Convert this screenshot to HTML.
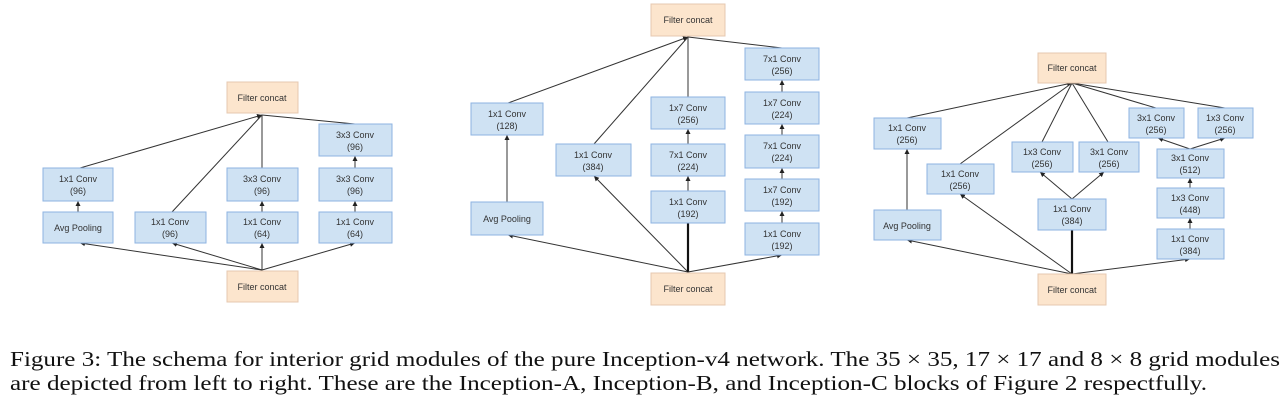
<!DOCTYPE html>
<html><head><meta charset="utf-8"><style>
html,body{margin:0;padding:0;background:#fff;width:1286px;height:404px;overflow:hidden}
svg text{font-family:"Liberation Sans",sans-serif}
</style></head><body>
<svg width="1286" height="404" xmlns="http://www.w3.org/2000/svg">
<defs><marker id="a" markerWidth="6" markerHeight="6" refX="5" refY="3" orient="auto" markerUnits="userSpaceOnUse"><path d="M0,0.5 L5,3 L0,5.5z" fill="#222"/></marker></defs>
<style>.b{fill:#cfe2f3;stroke:#8db3e2;stroke-width:1}.c{fill:#fce5cd;stroke:#e6c8b0;stroke-width:1}.l{stroke:#333;stroke-width:1;fill:none}.t{font-size:9px;fill:#333;text-anchor:middle}</style>

<!-- Diagram A -->
<g>
<line class="l" x1="80" y1="168" x2="262" y2="115" marker-end="url(#a)"/>
<line class="l" x1="172" y1="212" x2="262" y2="115"/>
<line class="l" x1="262" y1="168" x2="262" y2="115"/>
<line class="l" x1="355" y1="124" x2="262" y2="115"/>
<line class="l" x1="262" y1="270" x2="80" y2="243" marker-end="url(#a)"/>
<line class="l" x1="262" y1="270" x2="172" y2="243" marker-end="url(#a)"/>
<line class="l" x1="262" y1="270" x2="262" y2="243" marker-end="url(#a)"/>
<line class="l" x1="262" y1="270" x2="355" y2="243" marker-end="url(#a)"/>
<line class="l" x1="78" y1="212" x2="78" y2="201" marker-end="url(#a)"/>
<line class="l" x1="262" y1="212" x2="262" y2="201" marker-end="url(#a)"/>
<line class="l" x1="355" y1="212" x2="355" y2="201" marker-end="url(#a)"/>
<line class="l" x1="355" y1="168" x2="355" y2="156" marker-end="url(#a)"/>
<rect class="c" x="227" y="82" width="71" height="31"/><text class="t" x="262" y="101">Filter concat</text>
<rect class="b" x="43" y="168" width="70" height="33"/><text class="t" x="78" y="182">1x1 Conv</text><text class="t" x="78" y="194">(96)</text>
<rect class="b" x="43" y="212" width="70" height="31"/><text class="t" x="78" y="231">Avg Pooling</text>
<rect class="b" x="135" y="212" width="71" height="31"/><text class="t" x="170" y="225">1x1 Conv</text><text class="t" x="170" y="237">(96)</text>
<rect class="b" x="227" y="168" width="71" height="33"/><text class="t" x="262" y="182">3x3 Conv</text><text class="t" x="262" y="194">(96)</text>
<rect class="b" x="227" y="212" width="71" height="31"/><text class="t" x="262" y="225">1x1 Conv</text><text class="t" x="262" y="237">(64)</text>
<rect class="b" x="319" y="124" width="73" height="32"/><text class="t" x="355" y="138">3x3 Conv</text><text class="t" x="355" y="150">(96)</text>
<rect class="b" x="319" y="168" width="73" height="33"/><text class="t" x="355" y="182">3x3 Conv</text><text class="t" x="355" y="194">(96)</text>
<rect class="b" x="319" y="212" width="73" height="31"/><text class="t" x="355" y="225">1x1 Conv</text><text class="t" x="355" y="237">(64)</text>
<rect class="c" x="227" y="271" width="71" height="31"/><text class="t" x="262" y="290">Filter concat</text>
</g>

<!-- Diagram B -->
<g>
<line class="l" x1="508" y1="103" x2="688" y2="37" marker-end="url(#a)"/>
<line class="l" x1="594" y1="144" x2="688" y2="37"/>
<line class="l" x1="688" y1="97" x2="688" y2="37"/>
<line class="l" x1="782" y1="48" x2="688" y2="37"/>
<line class="l" x1="507" y1="202" x2="507" y2="135" marker-end="url(#a)"/>
<line class="l" x1="688" y1="272" x2="508" y2="235" marker-end="url(#a)"/>
<line class="l" x1="688" y1="272" x2="594" y2="176" marker-end="url(#a)"/>
<line x1="688" y1="272" x2="688" y2="223" stroke="#111" stroke-width="2.2"/>
<line class="l" x1="688" y1="272" x2="782" y2="255" marker-end="url(#a)"/>
<line class="l" x1="688" y1="191" x2="688" y2="176" marker-end="url(#a)"/>
<line class="l" x1="688" y1="144" x2="688" y2="129" marker-end="url(#a)"/>
<line class="l" x1="782" y1="223" x2="782" y2="211" marker-end="url(#a)"/>
<line class="l" x1="782" y1="179" x2="782" y2="168" marker-end="url(#a)"/>
<line class="l" x1="782" y1="135" x2="782" y2="124" marker-end="url(#a)"/>
<line class="l" x1="782" y1="92" x2="782" y2="80" marker-end="url(#a)"/>
<rect class="c" x="651" y="4" width="74" height="32"/><text class="t" x="688" y="23">Filter concat</text>
<rect class="b" x="471" y="103" width="72" height="32"/><text class="t" x="507" y="117">1x1 Conv</text><text class="t" x="507" y="129">(128)</text>
<rect class="b" x="471" y="202" width="72" height="33"/><text class="t" x="507" y="222">Avg Pooling</text>
<rect class="b" x="556" y="144" width="75" height="32"/><text class="t" x="593" y="158">1x1 Conv</text><text class="t" x="593" y="170">(384)</text>
<rect class="b" x="651" y="97" width="74" height="32"/><text class="t" x="688" y="111">1x7 Conv</text><text class="t" x="688" y="123">(256)</text>
<rect class="b" x="651" y="144" width="74" height="32"/><text class="t" x="688" y="158">7x1 Conv</text><text class="t" x="688" y="170">(224)</text>
<rect class="b" x="651" y="191" width="74" height="32"/><text class="t" x="688" y="205">1x1 Conv</text><text class="t" x="688" y="217">(192)</text>
<rect class="b" x="745" y="48" width="74" height="32"/><text class="t" x="782" y="62">7x1 Conv</text><text class="t" x="782" y="74">(256)</text>
<rect class="b" x="745" y="92" width="74" height="32"/><text class="t" x="782" y="106">1x7 Conv</text><text class="t" x="782" y="118">(224)</text>
<rect class="b" x="745" y="135" width="74" height="33"/><text class="t" x="782" y="149">7x1 Conv</text><text class="t" x="782" y="161">(224)</text>
<rect class="b" x="745" y="179" width="74" height="32"/><text class="t" x="782" y="193">1x7 Conv</text><text class="t" x="782" y="205">(192)</text>
<rect class="b" x="745" y="223" width="74" height="32"/><text class="t" x="782" y="237">1x1 Conv</text><text class="t" x="782" y="249">(192)</text>
<rect class="c" x="651" y="273" width="74" height="32"/><text class="t" x="688" y="292">Filter concat</text>
</g>

<!-- Diagram C -->
<g>
<line class="l" x1="907" y1="118" x2="1072" y2="83" marker-end="url(#a)"/>
<line class="l" x1="960" y1="164" x2="1072" y2="83"/>
<line class="l" x1="1042" y1="142" x2="1072" y2="83"/>
<line class="l" x1="1108" y1="142" x2="1072" y2="83"/>
<line class="l" x1="1156" y1="108" x2="1072" y2="83"/>
<line class="l" x1="1225" y1="108" x2="1072" y2="83"/>
<line class="l" x1="907" y1="210" x2="907" y2="149" marker-end="url(#a)"/>
<line class="l" x1="1072" y1="274" x2="907" y2="240" marker-end="url(#a)"/>
<line class="l" x1="1072" y1="274" x2="960" y2="194" marker-end="url(#a)"/>
<line x1="1072" y1="274" x2="1072" y2="230" stroke="#111" stroke-width="2.2"/>
<line class="l" x1="1072" y1="274" x2="1190" y2="259" marker-end="url(#a)"/>
<line class="l" x1="1072" y1="199" x2="1040" y2="172" marker-end="url(#a)"/>
<line class="l" x1="1072" y1="199" x2="1104" y2="172" marker-end="url(#a)"/>
<line class="l" x1="1190" y1="229" x2="1190" y2="218" marker-end="url(#a)"/>
<line class="l" x1="1190" y1="188" x2="1190" y2="178" marker-end="url(#a)"/>
<line class="l" x1="1190" y1="149" x2="1158" y2="138" marker-end="url(#a)"/>
<line class="l" x1="1190" y1="149" x2="1225" y2="138" marker-end="url(#a)"/>
<rect class="c" x="1038" y="53" width="68" height="30"/><text class="t" x="1072" y="71">Filter concat</text>
<rect class="b" x="874" y="118" width="67" height="31"/><text class="t" x="907" y="131">1x1 Conv</text><text class="t" x="907" y="143">(256)</text>
<rect class="b" x="874" y="210" width="67" height="30"/><text class="t" x="907" y="229">Avg Pooling</text>
<rect class="b" x="927" y="164" width="67" height="30"/><text class="t" x="960" y="177">1x1 Conv</text><text class="t" x="960" y="189">(256)</text>
<rect class="b" x="1012" y="142" width="61" height="30"/><text class="t" x="1042" y="155">1x3 Conv</text><text class="t" x="1042" y="167">(256)</text>
<rect class="b" x="1079" y="142" width="60" height="30"/><text class="t" x="1109" y="155">3x1 Conv</text><text class="t" x="1109" y="167">(256)</text>
<rect class="b" x="1038" y="199" width="68" height="31"/><text class="t" x="1072" y="212">1x1 Conv</text><text class="t" x="1072" y="224">(384)</text>
<rect class="b" x="1129" y="108" width="55" height="30"/><text class="t" x="1156" y="121">3x1 Conv</text><text class="t" x="1156" y="133">(256)</text>
<rect class="b" x="1198" y="108" width="55" height="30"/><text class="t" x="1225" y="121">1x3 Conv</text><text class="t" x="1225" y="133">(256)</text>
<rect class="b" x="1157" y="149" width="67" height="29"/><text class="t" x="1190" y="161">3x1 Conv</text><text class="t" x="1190" y="173">(512)</text>
<rect class="b" x="1157" y="188" width="67" height="30"/><text class="t" x="1190" y="201">1x3 Conv</text><text class="t" x="1190" y="213">(448)</text>
<rect class="b" x="1157" y="229" width="67" height="30"/><text class="t" x="1190" y="242">1x1 Conv</text><text class="t" x="1190" y="254">(384)</text>
<rect class="c" x="1038" y="274" width="68" height="31"/><text class="t" x="1072" y="293">Filter concat</text>
</g>

<text x="10" y="366" font-size="21" textLength="1270" lengthAdjust="spacingAndGlyphs" style="font-family:'Liberation Serif',serif" fill="#111">Figure 3: The schema for interior grid modules of the pure Inception-v4 network. The 35 × 35, 17 × 17 and 8 × 8 grid modules</text>
<text x="10" y="390" font-size="21" textLength="1197" lengthAdjust="spacingAndGlyphs" style="font-family:'Liberation Serif',serif" fill="#111">are depicted from left to right. These are the Inception-A, Inception-B, and Inception-C blocks of Figure 2 respectfully.</text>
</svg>
</body></html>
